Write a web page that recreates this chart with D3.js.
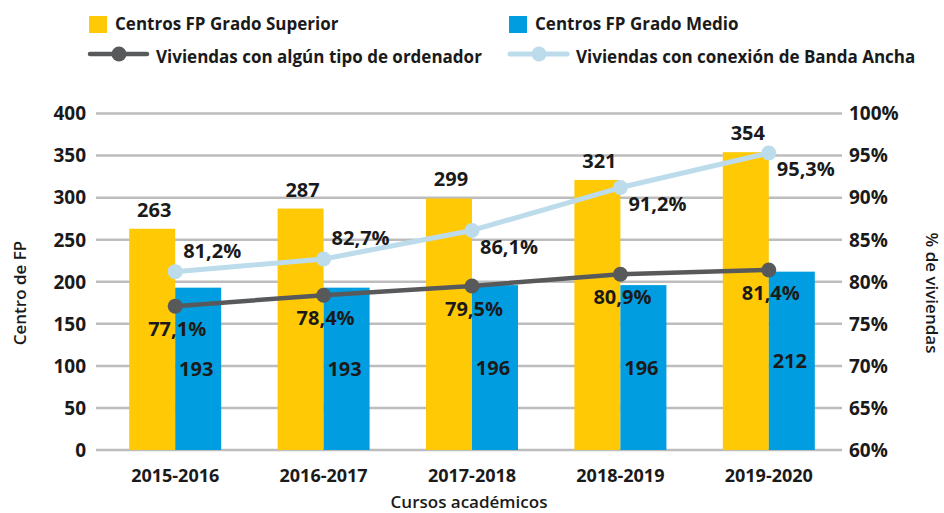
<!DOCTYPE html>
<html><head><meta charset="utf-8">
<script src="https://cdn.jsdelivr.net/npm/d3@7"></script>
<style>
body{margin:0;background:#fff}
svg{display:block}
text{font-family:'Open Sans',sans-serif;fill:#1a1a1a}
</style>
</head><body><svg id="c" width="944" height="513"></svg>
<script>
const categories = ["2015-2016","2016-2017","2017-2018","2018-2019","2019-2020"];
const gradoSuperior = [263, 287, 299, 321, 354];
const gradoMedio = [193, 193, 196, 196, 212];
const ordenador = [77.1, 78.4, 79.5, 80.9, 81.4];
const bandaAncha = [81.2, 82.7, 86.1, 91.2, 95.3];
const leftTicks = [0, 50, 100, 150, 200, 250, 300, 350, 400];
const rightTicks = [60, 65, 70, 75, 80, 85, 90, 95, 100];
const seriesNames = ["Centros FP Grado Superior","Centros FP Grado Medio","Viviendas con algún tipo de ordenador","Viviendas con conexión de Banda Ancha"];

const C_YEL = "#FFC905", C_BLU = "#009EE0", C_DARK = "#58595B", C_LIGHT = "#BCDCEC", C_GRID = "#BDBDBD";

const svg = d3.select("#c");
const x = d3.scaleBand().domain(categories).range([101, 843]).paddingInner(0.38).paddingOuter(0.19);
const yL = d3.scaleLinear().domain([0, 400]).range([450, 113.5]);
const yR = d3.scaleLinear().domain([60, 100]).range([450, 113.5]);
const bw = x.bandwidth() / 2;
const pct = v => d3.format(".1f")(v).replace(".", ",") + "%";

// gridlines
svg.append("g").selectAll("line").data(leftTicks).join("line")
  .attr("x1", 96).attr("x2", 842).attr("y1", d => yL(d)).attr("y2", d => yL(d))
  .attr("stroke", C_GRID).attr("stroke-width", 2.5);

// left ticks
svg.append("g").selectAll("text").data(leftTicks).join("text")
  .attr("x", 86).attr("y", d => yL(d)).attr("dy", "0.36em").attr("text-anchor", "end")
  .attr("font-size", 19).attr("font-weight", 700).text(d => d);
// right ticks
svg.append("g").selectAll("text").data(rightTicks).join("text")
  .attr("x", 849).attr("y", d => yR(d)).attr("dy", "0.36em").attr("text-anchor", "start")
  .attr("font-size", 19).attr("font-weight", 700).text(d => d + "%");

// bars
const g = svg.append("g");
g.selectAll("rect.s").data(categories).join("rect").attr("class", "s")
  .attr("x", d => x(d)).attr("width", bw)
  .attr("y", (d, i) => yL(gradoSuperior[i])).attr("height", (d, i) => yL(0) - yL(gradoSuperior[i]))
  .attr("fill", C_YEL);
g.selectAll("rect.m").data(categories).join("rect").attr("class", "m")
  .attr("x", d => x(d) + bw).attr("width", bw)
  .attr("y", (d, i) => yL(gradoMedio[i])).attr("height", (d, i) => yL(0) - yL(gradoMedio[i]))
  .attr("fill", C_BLU);

// category labels
svg.append("g").selectAll("text").data(categories).join("text")
  .attr("x", d => x(d) + bw).attr("y", 482).attr("text-anchor", "middle")
  .attr("font-size", 18).attr("font-weight", 700).text(d => d);

// bar labels
svg.append("g").selectAll("text").data(categories).join("text")
  .attr("x", d => x(d) + bw / 2 + 2).attr("y", (d, i) => yL(gradoSuperior[i]) - 12)
  .attr("text-anchor", "middle").attr("font-size", 20).attr("font-weight", 700)
  .text((d, i) => gradoSuperior[i]);
svg.append("g").selectAll("text").data(categories).join("text")
  .attr("x", d => x(d) + bw * 1.5 - 2).attr("y", (d, i) => (yL(gradoMedio[i]) + yL(0)) / 2)
  .attr("dy", "0.36em").attr("text-anchor", "middle").attr("font-size", 20).attr("font-weight", 700)
  .text((d, i) => gradoMedio[i]);

// lines
const px = d => x(d) + bw;
function drawLine(vals, color, width) {
  const line = d3.line().x((d, i) => px(categories[i])).y(d => yR(d));
  svg.append("path").datum(vals).attr("d", line).attr("fill", "none")
    .attr("stroke", color).attr("stroke-width", width).attr("stroke-linejoin", "round");
  svg.append("g").selectAll("circle").data(vals).join("circle")
    .attr("cx", (d, i) => px(categories[i])).attr("cy", d => yR(d)).attr("r", 7.5).attr("fill", color);
}
drawLine(bandaAncha, C_LIGHT, 5);
drawLine(ordenador, C_DARK, 4.5);

// line labels
svg.append("g").selectAll("text").data(bandaAncha).join("text")
  .attr("x", (d, i) => px(categories[i]) + 37)
  .attr("y", (d, i) => yR(d) + (i < 2 ? -21 : 16))
  .attr("dy", "0.36em").attr("text-anchor", "middle").attr("font-size", 20).attr("font-weight", 700)
  .text(d => pct(d));
svg.append("g").selectAll("text").data(ordenador).join("text")
  .attr("x", (d, i) => px(categories[i]) + 2)
  .attr("y", d => yR(d) + 23)
  .attr("dy", "0.36em").attr("text-anchor", "middle").attr("font-size", 20).attr("font-weight", 700)
  .text(d => pct(d));

// axis titles
svg.append("text").attr("transform", "translate(26,293) rotate(-90)").attr("text-anchor", "middle")
  .attr("font-size", 17).attr("font-weight", 600).text("Centro de FP");
svg.append("text").attr("transform", "translate(926,293) rotate(90)").attr("text-anchor", "middle")
  .attr("font-size", 17).attr("font-weight", 600).text("% de viviendas");
svg.append("text").attr("x", 469).attr("y", 508).attr("text-anchor", "middle")
  .attr("font-size", 17).attr("font-weight", 600).text("Cursos académicos");

// legend
const leg = svg.append("g");
leg.append("rect").attr("x", 89).attr("y", 16).attr("width", 18).attr("height", 17).attr("fill", C_YEL);
leg.append("text").attr("x", 115).attr("y", 30).attr("font-size", 17).attr("font-weight", 700).text(seriesNames[0]);
leg.append("rect").attr("x", 509).attr("y", 16).attr("width", 18).attr("height", 17).attr("fill", C_BLU);
leg.append("text").attr("x", 535).attr("y", 30).attr("font-size", 17).attr("font-weight", 700).text(seriesNames[1]);
[[90, C_DARK, seriesNames[2], 4.5], [510, C_LIGHT, seriesNames[3], 5]].forEach(([lx, col, name, w]) => {
  leg.append("line").attr("x1", lx).attr("x2", lx + 57).attr("y1", 54).attr("y2", 54)
    .attr("stroke", col).attr("stroke-width", w).attr("stroke-linecap", "round");
  leg.append("circle").attr("cx", lx + 29).attr("cy", 54).attr("r", 7.5).attr("fill", col);
  leg.append("text").attr("x", lx + 66).attr("y", 62.5).attr("font-size", 17).attr("font-weight", 700).text(name);
});
</script>
</body></html>
